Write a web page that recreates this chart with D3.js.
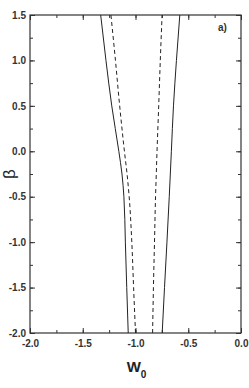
<!DOCTYPE html>
<html>
<head>
<meta charset="utf-8">
<script src="https://cdn.jsdelivr.net/npm/d3@7"></script>
<style>
  body { margin: 0; background: #fff; }
  svg { display: block; font-family: "Liberation Sans", Arial, sans-serif; }
</style>
</head>
<body>
<div id="chart"></div>
<script>
// beta values sampled along each curve
const betas = [-2.0, -1.5, -1.0, -0.5, -0.25, 0.0, 0.5, 1.0, 1.5];
// w0 boundaries (solid = outer, dashed = inner)
const solidLeft  = [-1.069, -1.083, -1.096, -1.110, -1.128, -1.158, -1.225, -1.28, -1.33];
const dashLeft   = [-1.000, -1.018, -1.035, -1.060, -1.080, -1.105, -1.150, -1.19, -1.233];
const dashRight  = [-0.838, -0.830, -0.820, -0.810, -0.803, -0.796, -0.780, -0.765, -0.748];
const solidRight = [-0.747, -0.725, -0.702, -0.680, -0.670, -0.660, -0.640, -0.612, -0.580];

const xTicks = [-2.0, -1.5, -1.0, -0.5, 0.0];
const yTicks = [-2.0, -1.5, -1.0, -0.5, 0.0, 0.5, 1.0, 1.5];

const W = 249, H = 388;
const margin = { top: 15, right: 8, bottom: 55, left: 30 };
const width = W - margin.left - margin.right;
const height = H - margin.top - margin.bottom;

const svg = d3.select('#chart').append('svg')
  .attr('width', W)
  .attr('height', H);

const g = svg.append('g')
  .attr('transform', `translate(${margin.left},${margin.top})`);

const x = d3.scaleLinear().domain([-2, 0]).range([0, width]);
const y = d3.scaleLinear().domain([-2, 1.5]).range([height, 0]);

const minorX = d3.range(-2, 0.001, 0.25);
const minorY = d3.range(-2, 1.501, 0.25);

// plain hyphen, like the original plot
const fmt = d => d3.format('.1f')(d).replace('\u2212', '-');

const axisStyle = sel => {
  sel.select('.domain').remove();
  sel.selectAll('line').attr('stroke', '#333');
  sel.selectAll('text').attr('fill', '#333').attr('font-size', '10px').attr('font-weight', 'bold');
};

// minor ticks (inward)
g.append('g').attr('transform', `translate(0,${height})`)
  .call(d3.axisBottom(x).tickValues(minorX).tickSize(-3).tickFormat(''))
  .call(axisStyle);
g.append('g')
  .call(d3.axisTop(x).tickValues(minorX).tickSize(-3).tickFormat(''))
  .call(axisStyle);
g.append('g')
  .call(d3.axisLeft(y).tickValues(minorY).tickSize(-3).tickFormat(''))
  .call(axisStyle);
g.append('g').attr('transform', `translate(${width},0)`)
  .call(d3.axisRight(y).tickValues(minorY).tickSize(-3).tickFormat(''))
  .call(axisStyle);

// major ticks + labels
g.append('g').attr('transform', `translate(0,${height})`)
  .call(d3.axisBottom(x).tickValues(xTicks).tickSize(-5).tickPadding(7).tickFormat(fmt))
  .call(axisStyle);
g.append('g')
  .call(d3.axisLeft(y).tickValues(yTicks).tickSize(-5).tickPadding(4).tickFormat(fmt))
  .call(axisStyle);
g.append('g')
  .call(d3.axisTop(x).tickValues(xTicks).tickSize(-5).tickFormat(''))
  .call(axisStyle);
g.append('g').attr('transform', `translate(${width},0)`)
  .call(d3.axisRight(y).tickValues(yTicks).tickSize(-5).tickFormat(''))
  .call(axisStyle);

// frame
g.append('rect')
  .attr('width', width)
  .attr('height', height)
  .attr('fill', 'none')
  .attr('stroke', '#333')
  .attr('stroke-width', 1.2);

// curves
const line = d3.line()
  .x(d => x(d[0]))
  .y(d => y(d[1]))
  .curve(d3.curveMonotoneY);

const curves = [
  { vals: solidLeft, dash: null },
  { vals: dashLeft, dash: '4,3' },
  { vals: dashRight, dash: '4,3' },
  { vals: solidRight, dash: null }
];

curves.forEach(c => {
  g.append('path')
    .datum(c.vals.map((w, i) => [w, betas[i]]))
    .attr('d', line)
    .attr('fill', 'none')
    .attr('stroke', '#222')
    .attr('stroke-width', 1)
    .attr('stroke-dasharray', c.dash);
});

// panel label
g.append('text')
  .attr('x', width - 23)
  .attr('y', 16)
  .attr('font-size', '10px')
  .attr('font-weight', 'bold')
  .attr('fill', '#333')
  .text('a)');

// axis titles
const xt = svg.append('text')
  .attr('x', margin.left + width / 2 + 1)
  .attr('y', 372)
  .attr('text-anchor', 'middle')
  .attr('fill', '#222')
  .attr('font-weight', 'bold')
  .attr('font-size', '15px');
xt.append('tspan').text('W');
xt.append('tspan').attr('dy', 6).attr('font-size', '10px').text('0');

svg.append('text')
  .attr('transform', `translate(15,174) rotate(-90)`)
  .attr('text-anchor', 'middle')
  .attr('fill', '#222')
  .attr('font-size', '17px')
  .text('β');
</script>
</body>
</html>
